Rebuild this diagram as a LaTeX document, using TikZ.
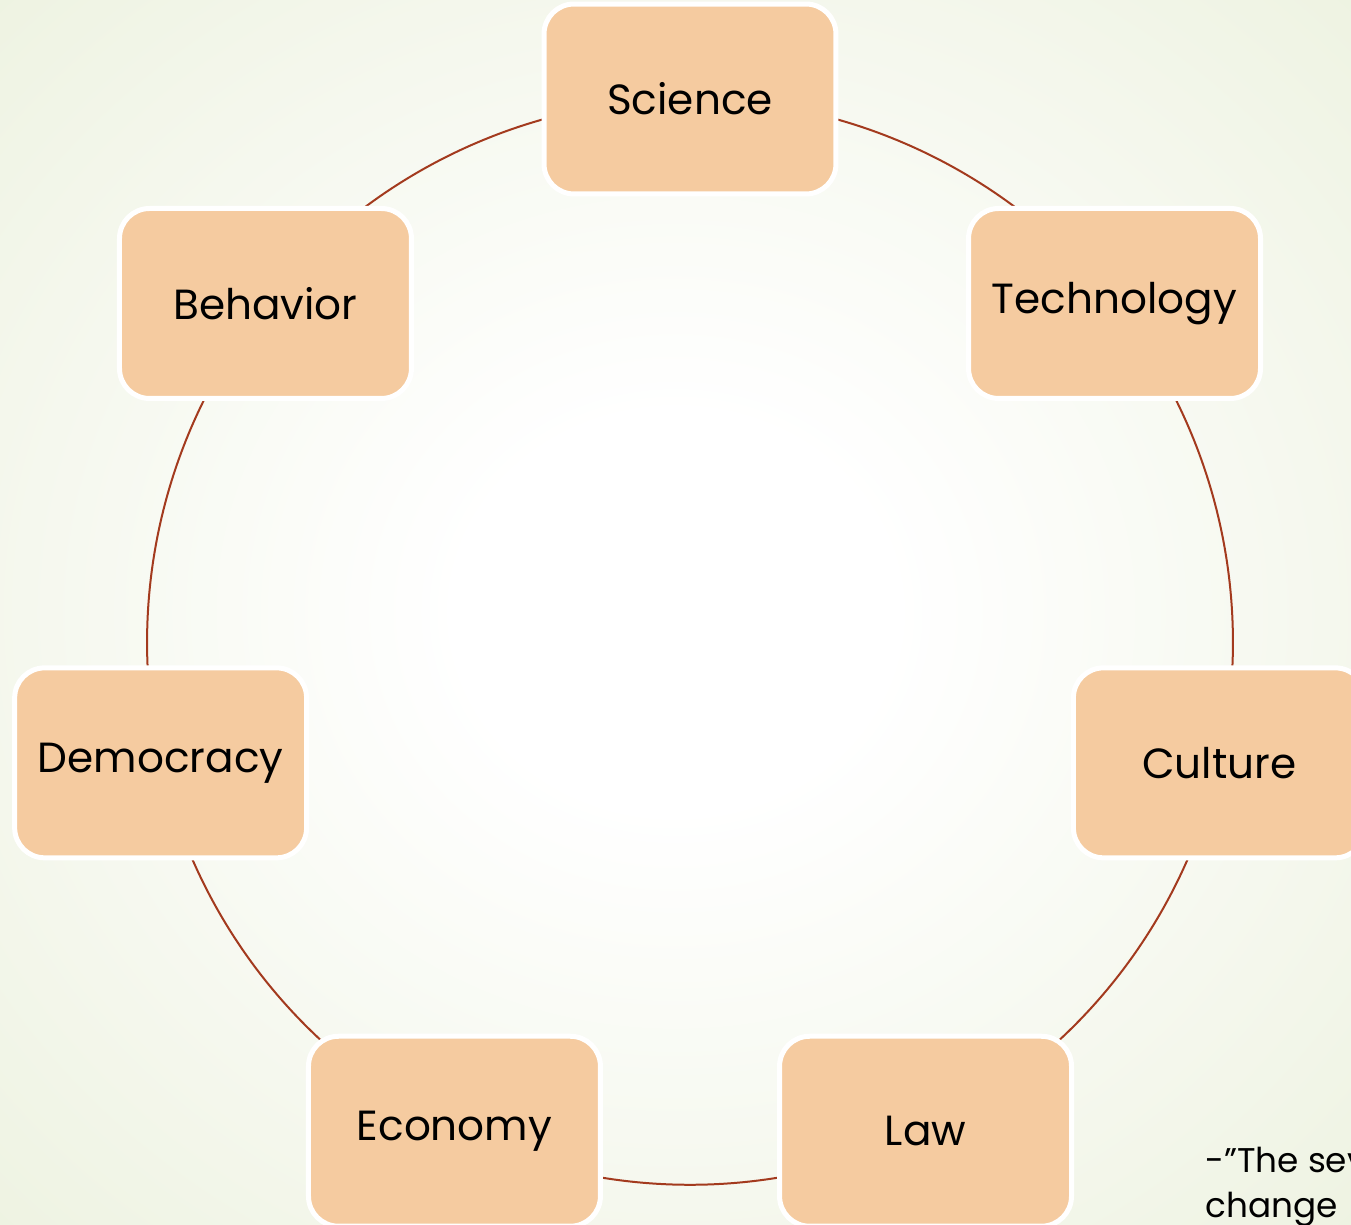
\documentclass[tikz,border=0pt]{standalone}
\usepackage{fontspec}
\setmainfont{Poppins}
\usepackage{tikz}
\usetikzlibrary{arrows.meta,positioning}
\definecolor{boxpeach}{RGB}{245,203,160}
\definecolor{ringred}{RGB}{163,58,30}
\definecolor{bgedge}{RGB}{233,239,217}
\pgfdeclareradialshading{slideglow}{\pgfpoint{0bp}{0bp}}{color(0bp)=(white); color(8bp)=(white); color(44bp)=(bgedge); color(50bp)=(bgedge)}
\pgfdeclarelayer{backdrop}
\pgfdeclarelayer{links}
\pgfsetlayers{backdrop,links,main}

\begin{document}
\begin{tikzpicture}[
  x=0.02cm, y=0.02cm,
  topic/.style={draw=white, line width=0.1cm, fill=boxpeach, rounded corners=0.6cm, minimum width=5.84cm, minimum height=3.8cm, inner sep=0pt, font=\fontsize{24}{28}\selectfont},
  ring/.style={draw=ringred, line width=0.04cm},
  link/.style={ring, bend left=25.71, looseness=0.896}
]
\useasboundingbox (-690,-582) rectangle (661,642);
\clip (-690,-582) rectangle (661,642);
\begin{pgfonlayer}{backdrop}
  \shade[shading=slideglow] (-690,-582) rectangle (661,642);
\end{pgfonlayer}

% seven topics spaced evenly round the ring
\node[topic] (sci)  at (90:543)      {Science};
\node[topic] (tech) at (38.57:543)   {Technology};
\node[topic] (cult) at (-12.86:543)  {Culture};
\node[topic] (law)  at (-64.29:543)  {Law};
\node[topic] (econ) at (-115.71:543) {Economy};
\node[topic] (demo) at (-167.14:543) {Democracy};
\node[topic] (beh)  at (141.43:543)  {Behavior};

\begin{pgfonlayer}{links}
  \draw[link] (sci.center)  to (tech.center);
  \draw[link] (tech.center) to (cult.center);
  \draw[link] (cult.center) to (law.center);
  \draw[link] (law.center)  to (econ.center);
  \draw[link] (econ.center) to (demo.center);
  \draw[link] (demo.center) to (beh.center);
  \draw[link] (beh.center)  to (sci.center);
\end{pgfonlayer}

\node[anchor=base west, align=left, inner sep=0pt, font=\fontsize{19.5}{25.6}\selectfont] (quote) at (515,-575) {-”The sev\\change};
\end{tikzpicture}
\end{document}
